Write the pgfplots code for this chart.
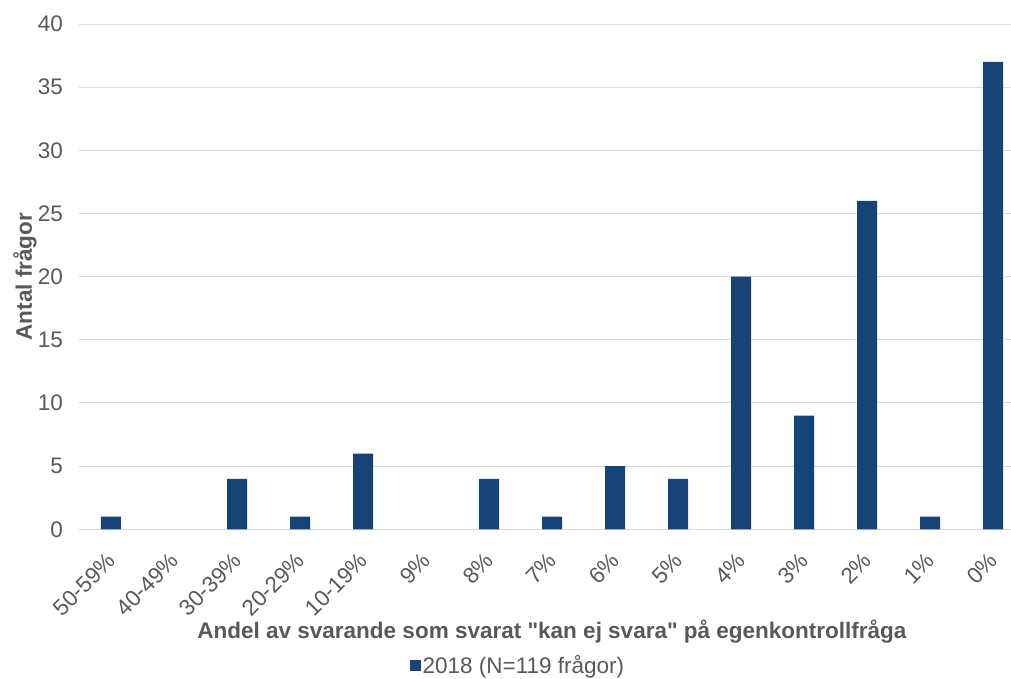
\documentclass[border=0pt]{standalone}
\usepackage{fontspec}
\setmainfont{Liberation Sans}
\usepackage{pgfplots}
\pgfplotsset{compat=1.18}
\definecolor{txt}{RGB}{89,89,89}
\definecolor{barblue}{RGB}{22,67,120}
\definecolor{gridc}{RGB}{217,217,217}
\begin{document}
\begin{tikzpicture}
\begin{axis}[
  at={(0,0)}, anchor=south west,
  scale only axis,
  width=945bp, height=505.3bp,
  xmin=-0.5, xmax=14.5,
  ymin=0, ymax=40,
  ytick={0,5,...,40},
  xtick={0,...,14},
  xticklabels={50-59\%,40-49\%,30-39\%,20-29\%,10-19\%,9\%,8\%,7\%,6\%,5\%,4\%,3\%,2\%,1\%,0\%},
  axis line style={draw=none},
  major tick length=0pt,
  ymajorgrids,
  grid style={gridc, line width=1bp},
  /pgf/number format/assume math mode=true,
  tick label style={font=\fontsize{22.5bp}{26bp}\selectfont, text=txt},
  yticklabel style={xshift=-13bp},
  xticklabel style={xshift=-5bp, yshift=-17bp, rotate=45, anchor=north east},
  xlabel={Andel av svarande som svarat \textquotedbl kan ej svara\textquotedbl{} på egenkontrollfråga},
  ylabel={Antal frågor},
  label style={font=\bfseries\fontsize{22.5bp}{26bp}\selectfont, text=txt},
  xlabel style={at={(axis description cs:0.5,-0.2033)}, anchor=center},
  ylabel style={at={(axis description cs:-0.0577,0.5)}, anchor=center},
  legend style={at={(axis description cs:0.464,-0.2686)}, anchor=center, draw=none,
    font=\fontsize{22.5bp}{26bp}\selectfont, text=txt, legend columns=1},
  legend image code/.code={\fill[#1] (0bp,-5.5bp) rectangle (11bp,5.5bp);},
]
\addplot[ybar, bar width=20bp, fill=barblue, draw=none] coordinates {
(0,1) (2,4) (3,1) (4,6) (6,4) (7,1) (8,5) (9,4) (10,20) (11,9) (12,26) (13,1) (14,37)
};
\addlegendentry{2018 (N=119 frågor)}
\end{axis}
\pgfresetboundingbox
\useasboundingbox (-79.5bp,-149.7bp) rectangle (931.5bp,529.3bp);
\end{tikzpicture}
\end{document}
